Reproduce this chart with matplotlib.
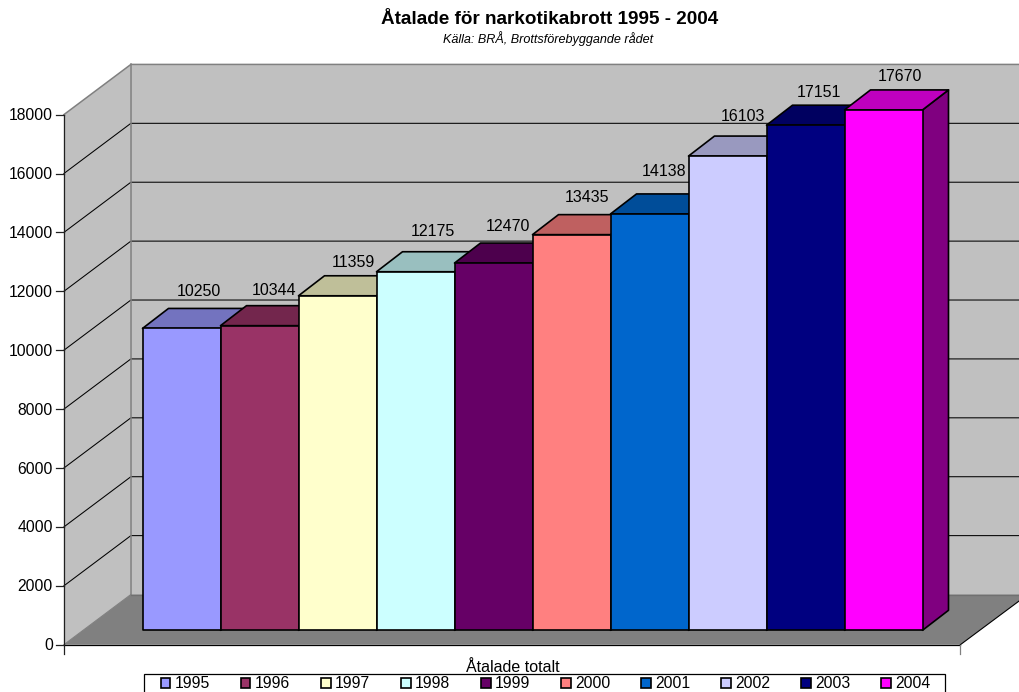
#!/usr/bin/env python3
import matplotlib
matplotlib.use("Agg")
import matplotlib.pyplot as plt
from matplotlib.patches import Polygon, Patch, Rectangle
from matplotlib.colors import to_rgb

plt.rcParams["font.family"] = ["Liberation Sans", "DejaVu Sans"]

years = ["1995", "1996", "1997", "1998", "1999", "2000", "2001", "2002", "2003", "2004"]
values = [10250, 10344, 11359, 12175, 12470, 13435, 14138, 16103, 17151, 17670]
colors = ["#9999FF", "#993366", "#FFFFCC", "#CCFFFF", "#660066",
          "#FF8080", "#0066CC", "#CCCCFF", "#000080", "#FF00FF"]
yticks = list(range(0, 18001, 2000))

# hand placed value labels, px from bar centre / px above bar top
label_dx = [17.5, 15, 15.5, 17.5, 14, 15, 15, 15, 13.5, 16.5]
label_dy = [37, 35, 33, 40, 37, 37, 42, 40, 32.5, 33]

# x unit = one bar (78 px), y unit = one case
PX_X = 78.0
PX_Y = 0.02945
BASE = 630.3
DEPTH_X = 26 / PX_X
DEPTH_Y = 20 / PX_Y
FRONT_X, BACK_X = -1.008, -0.149
RIGHT_FRONT, RIGHT_BACK = 10.485, 11.35
FRONT_Y, BACK_Y = -490.0, 1215.0
TOP = yticks[-1]


def shade(c, f):
    return tuple(v * f for v in to_rgb(c))


fig = plt.figure(figsize=(10.19, 6.92), dpi=100)
ax = fig.add_axes([0, 0, 1, 1])
ax.set_xlim(-142.5 / PX_X, (1019 - 142.5) / PX_X)
ax.set_ylim(-(692 - BASE) / PX_Y, BASE / PX_Y)
ax.axis("off")

# walls and floor
ax.add_patch(Polygon([(BACK_X, BACK_Y), (RIGHT_BACK, BACK_Y), (RIGHT_BACK, TOP + BACK_Y), (BACK_X, TOP + BACK_Y)],
                     fc="#C0C0C0", ec="none", zorder=1))
ax.add_patch(Polygon([(FRONT_X, FRONT_Y), (BACK_X, BACK_Y), (BACK_X, TOP + BACK_Y), (FRONT_X, TOP + FRONT_Y)],
                     fc="#C0C0C0", ec="none", zorder=1))
ax.add_patch(Polygon([(FRONT_X, FRONT_Y), (RIGHT_FRONT, FRONT_Y), (RIGHT_BACK, BACK_Y), (BACK_X, BACK_Y)],
                     fc="#808080", ec="none", zorder=1))

# gridlines on both walls
for v in yticks[1:-1]:
    ax.plot([FRONT_X, BACK_X, RIGHT_BACK], [v + FRONT_Y, v + BACK_Y, v + BACK_Y], color="black", lw=0.75, zorder=2)

# wall edges
gray = "#808080"
ax.plot([FRONT_X, BACK_X, RIGHT_BACK], [TOP + FRONT_Y, TOP + BACK_Y, TOP + BACK_Y], color=gray, lw=1.1, zorder=2)
ax.plot([BACK_X, BACK_X], [BACK_Y, TOP + BACK_Y], color=gray, lw=1.1, zorder=2)
ax.plot([BACK_X, RIGHT_BACK], [BACK_Y, BACK_Y], color="#707070", lw=0.9, zorder=2)
ax.plot([FRONT_X, BACK_X], [FRONT_Y, BACK_Y], color=gray, lw=0.8, zorder=2)

# axis lines, ticks and tick labels
tick_x = 8 / PX_X
ax.plot([FRONT_X, FRONT_X], [FRONT_Y - 9 / PX_Y, TOP + FRONT_Y], color="#202020", lw=0.9, zorder=3)
ax.plot([FRONT_X, RIGHT_FRONT], [FRONT_Y, FRONT_Y], color="black", lw=0.9, zorder=3)
ax.plot([RIGHT_FRONT, RIGHT_BACK], [FRONT_Y, BACK_Y], color="black", lw=0.8, zorder=3)
ax.plot([RIGHT_FRONT, RIGHT_FRONT], [FRONT_Y - 9 / PX_Y, FRONT_Y], color=gray, lw=0.9, zorder=3)
for v in yticks:
    ax.plot([FRONT_X - tick_x, FRONT_X], [v + FRONT_Y, v + FRONT_Y], color="#202020", lw=0.9, zorder=3)
    ax.text(FRONT_X - tick_x - 3 / PX_X, v + FRONT_Y - 1 / PX_Y, str(v), ha="right", va="center", fontsize=11.3,
            color="black")

# bars, painted left to right so each covers the side of the one before
for i, (val, col) in enumerate(zip(values, colors)):
    z = 4 + i
    top = [(i, val), (i + 1, val), (i + 1 + DEPTH_X, val + DEPTH_Y), (i + DEPTH_X, val + DEPTH_Y)]
    side = [(i + 1, 0), (i + 1 + DEPTH_X, DEPTH_Y), (i + 1 + DEPTH_X, val + DEPTH_Y), (i + 1, val)]
    ax.add_patch(Polygon(side, fc=shade(col, 0.5), ec="black", lw=1.2, zorder=z, joinstyle="round"))
    ax.add_patch(Polygon(top, fc=shade(col, 0.75), ec="black", lw=1.2, zorder=z, joinstyle="round"))
    ax.add_patch(Polygon([(i, 0), (i + 1, 0), (i + 1, val), (i, val)], fc=col, ec="black", lw=1.2, zorder=z,
                         joinstyle="round"))
    ax.text(i + 0.5 + label_dx[i] / PX_X, val + label_dy[i] / PX_Y, str(val), ha="center", va="center",
            fontsize=11.5, zorder=20)

# titles
fig.text(549.5 / 1019, 1 - 19.5 / 692, "Åtalade för narkotikabrott 1995 - 2004", ha="center", va="center",
         fontsize=13.6, fontweight="bold")
fig.text(548.5 / 1019, 1 - 38.5 / 692, "Källa: BRÅ, Brottsförebyggande rådet", ha="center", va="center",
         fontsize=9.05, fontstyle="italic")
fig.text(513 / 1019, 1 - 667 / 692, "Åtalade totalt", ha="center", va="center", fontsize=11.5, zorder=30)

# legend box runs off the bottom edge like the original
fig.add_artist(Rectangle((144 / 1019, -0.02), (945 - 144) / 1019, 1 - 673.5 / 692 + 0.02, transform=fig.transFigure,
                         fc="white", ec="black", lw=0.9, zorder=5))
handles = [Patch(fc=c, ec="black", lw=1.2, label=y) for y, c in zip(years, colors)]
leg = fig.legend(handles=handles, ncol=10, loc="upper left", bbox_to_anchor=(160.5 / 1019, 1 - 676.5 / 692),
                 fontsize=11.3, frameon=False, handlelength=0.62, handleheight=0.62, handletextpad=0.27,
                 columnspacing=1.97, borderpad=0, borderaxespad=0)
leg.set_zorder(6)

fig.savefig("out.png", dpi=100)
